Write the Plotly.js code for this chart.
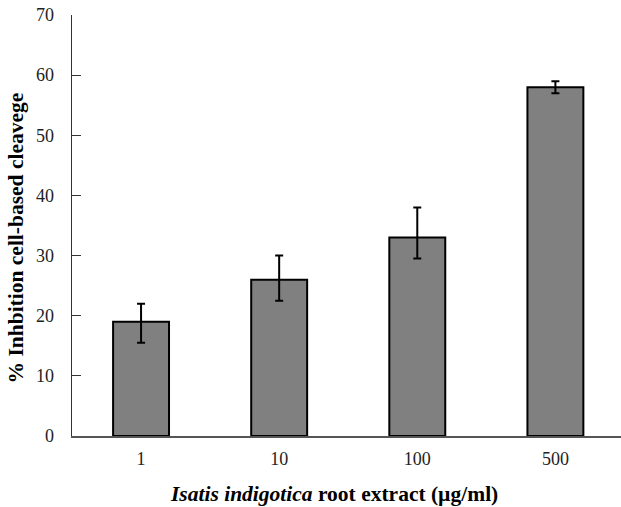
<!DOCTYPE html>
<html>
<head>
<meta charset="utf-8">
<script src="https://cdn.plot.ly/plotly-3.0.1.min.js"></script>
<style>html,body{margin:0;padding:0;background:#fff;}#chart{width:621px;height:507px;}</style>
</head>
<body>
<div id="chart"></div>
<script>
const categories = ["1", "10", "100", "500"];
const inhibition = [19, 26, 33, 58];
const errPlus = [3, 4, 5, 1];
const errMinus = [3.5, 3.5, 3.5, 1];
const yTicks = [0, 10, 20, 30, 40, 50, 60, 70];
const xTitle = "<b><i>Isatis indigotica</i> root extract (µg/ml)</b>";
const yTitle = "<b>% Inhbition cell-based cleavege</b>";

const trace = {
  type: "bar",
  x: categories,
  y: inhibition,
  width: 0.405,
  marker: { color: "#808080", line: { color: "#000", width: 2 } },
  error_y: {
    type: "data", symmetric: false,
    array: errPlus, arrayminus: errMinus,
    color: "#000", thickness: 2, width: 4
  },
  hoverinfo: "none"
};

const layout = {
  width: 621, height: 507,
  margin: { l: 72, r: 0, t: 15, b: 71 },
  paper_bgcolor: "#fff", plot_bgcolor: "#fff",
  showlegend: false,
  font: { family: "Liberation Serif, Times New Roman, serif", color: "#000", size: 18 },
  xaxis: {
    type: "category",
    range: [-0.5, 3.475],
    showline: true, linecolor: "#555", linewidth: 1.5,
    ticks: "", showgrid: false, zeroline: false,
    tickfont: { size: 18, color: "#222" },
    ticklabelstandoff: 6
  },
  yaxis: {
    range: [0, 70],
    tickvals: yTicks,
    showline: true, linecolor: "#333", linewidth: 1.5,
    ticks: "inside", ticklen: 9, tickcolor: "#333", tickwidth: 1.2,
    showgrid: false, zeroline: false,
    tickfont: { size: 18, color: "#222" },
    ticklabelstandoff: 13
  },
  annotations: [
    { text: xTitle, xref: "paper", yref: "paper", x: 0.478, y: -0.1366,
      xanchor: "center", yanchor: "middle", showarrow: false, font: { size: 21.5 } },
    { text: yTitle, xref: "paper", yref: "paper", x: -0.1002, y: 0.4715,
      xanchor: "center", yanchor: "middle", textangle: -90, showarrow: false, font: { size: 21.5 } }
  ]
};

Plotly.newPlot("chart", [trace], layout, { displayModeBar: false, staticPlot: true });
</script>
</body>
</html>
